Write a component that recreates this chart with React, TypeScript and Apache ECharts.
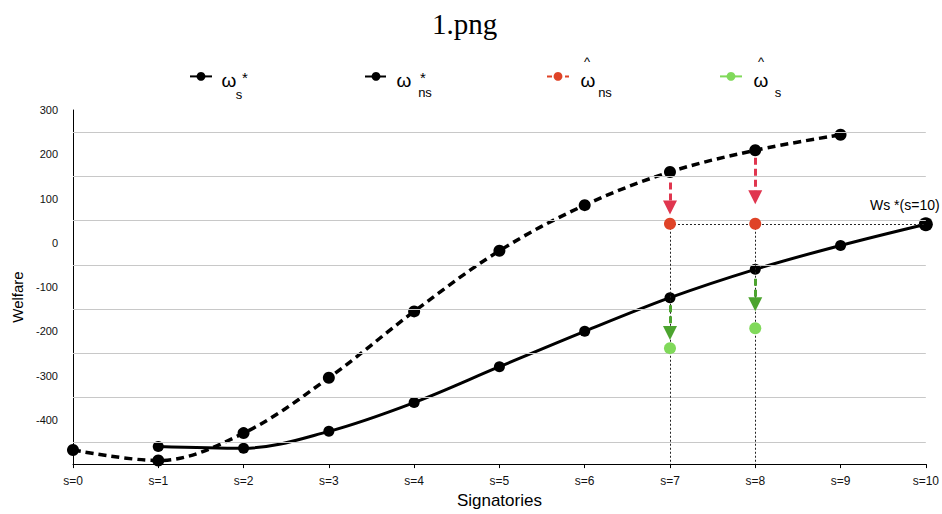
import React, { useEffect, useRef } from 'react';
import * as echarts from 'echarts';

const categories = ['s=0', 's=1', 's=2', 's=3', 's=4', 's=5', 's=6', 's=7', 's=8', 's=9', 's=10'];
const omegaS = [null, -460, -464, -426, -361, -280, -200, -124, -60, -6, 42];
const omegaNS = [-468, -492, -430, -305, -155, -18, 85, 160, 209, 244, null];
const omegaHatNS = [null, null, null, null, null, null, null, 43, 43, null, null];
const omegaHatS = [null, null, null, null, null, null, null, -238, -193, null, null];
const gridValues = [-450, -350, -250, -150, -50, 50, 150, 250];
// arrows: [category index, from value, to value]
const redArrows = [[7, 136, 80], [8, 192, 103]];
const greenArrows = [[7, -141, -204], [8, -81, -139]];
// dotted guide lines: [[x1, y1], [x2, y2]]
const guideLines = [[[7, 43], [10, 43]], [[7, 43], [7, -500]], [[8, 43], [8, -500]]];

const seriesNames = ['ωs*', 'ωns*', 'ω̂ns', 'ω̂s'];
// legend label pieces: [main, subscript, mark above]
const legendMain = ['ω', 'ω', 'ω', 'ω'];
const legendSub = ['s', 'ns', 'ns', 's'];
const legendMark = ['*', '*', '^', '^'];

const FONT = 'Liberation Sans, Arial, Helvetica, sans-serif';
const RED_PT = '#df4327';
const RED_AR = '#e0364f';
const GREEN_PT = '#80d95a';
const GREEN_AR = '#4ca42f';

// legend layout (pixels)
const legendIconLeft = [189, 364, 546, 719];
const legendMainX = [229, 404, 588, 761];
const legendSubX = [239, 425, 605, 778];
const legendMarkX = [245, 423, 587, 761];

function makeLegend(name: string, left: number, extra: any = {}) {
  return {
    data: [{ name, ...extra }],
    left,
    top: 72,
    padding: 0,
    itemWidth: 22,
    itemHeight: 11,
    formatter: () => '',
    textStyle: { fontSize: 8, lineHeight: 11 },
  };
}

export default function App() {
  const ref = useRef<HTMLDivElement>(null);
  useEffect(() => {
    document.body.style.margin = '0';
    const chart = echarts.init(ref.current!, null, { renderer: 'svg' });
    const arrowLines = (arr: number[][]) =>
      arr.map(([x, a, b]) => [{ coord: [x, a] }, { coord: [x, b] }]);

    const legendTexts: any[] = [];
    seriesNames.forEach((_, i) => {
      legendTexts.push({
        type: 'text',
        x: legendMainX[i],
        y: 80,
        style: { text: legendMain[i], font: `19px ${FONT}`, lineHeight: 19, fill: '#000', align: 'center', verticalAlign: 'middle' },
      });
      legendTexts.push({
        type: 'text',
        x: legendSubX[i],
        y: i === 0 ? 94 : 92,
        style: { text: legendSub[i], font: `13px ${FONT}`, lineHeight: 13, fill: '#000', align: 'center', verticalAlign: 'middle' },
      });
      const isStar = legendMark[i] === '*';
      legendTexts.push({
        type: 'text',
        x: legendMarkX[i],
        y: isStar ? 77 : 61,
        style: {
          text: legendMark[i],
          font: isStar ? `15px ${FONT}` : `13px ${FONT}`,
          lineHeight: isStar ? 15 : 13,
          fill: '#000',
          align: 'center',
          verticalAlign: 'middle',
        },
      });
    });

    const option: any = {
      animation: false,
      backgroundColor: '#ffffff',
      title: {
        text: '1.png',
        left: 427,
        top: 4,
        textStyle: { fontFamily: 'Liberation Serif, serif', fontSize: 29, fontWeight: 'normal', color: '#000' },
      },
      legend: [
        makeLegend(seriesNames[0], legendIconLeft[0]),
        makeLegend(seriesNames[1], legendIconLeft[1]),
        makeLegend(seriesNames[2], legendIconLeft[2], { lineStyle: { opacity: 1, width: 2, type: [5, 4] } }),
        makeLegend(seriesNames[3], legendIconLeft[3], { lineStyle: { opacity: 1, width: 2 } }),
      ],
      graphic: legendTexts,
      grid: { left: 73, right: 16, top: 110, bottom: 47 },
      xAxis: {
        type: 'category',
        data: categories,
        boundaryGap: false,
        name: 'Signatories',
        nameLocation: 'middle',
        nameGap: 27,
        nameTextStyle: { fontSize: 17, color: '#000', fontFamily: FONT },
        axisLine: { onZero: false, lineStyle: { color: '#000', width: 1 } },
        axisTick: { show: true, length: 4, lineStyle: { color: '#000' } },
        axisLabel: { fontSize: 12, color: '#111', margin: 11, fontFamily: FONT },
        splitLine: { show: false },
      },
      yAxis: {
        type: 'value',
        min: -500,
        max: 300,
        interval: 100,
        name: 'Welfare',
        nameLocation: 'middle',
        nameGap: 44,
        nameTextStyle: { fontSize: 15, color: '#000', fontFamily: FONT, padding: [0, 20, 0, 0] },
        axisLine: { show: true, lineStyle: { color: '#000', width: 1 } },
        axisTick: { show: false },
        splitLine: { show: false },
        axisLabel: {
          fontSize: 11,
          color: '#111',
          margin: 15,
          fontFamily: FONT,
          formatter: (v: number) => (v === -500 ? '' : String(v)),
        },
      },
      series: [
        {
          name: 'grid',
          type: 'line',
          data: [],
          z: 1,
          markLine: {
            silent: true,
            symbol: 'none',
            label: { show: false },
            lineStyle: { color: '#c8c8c8', type: 'solid', width: 1 },
            data: gridValues.map((v) => ({ yAxis: v })),
          },
        },
        {
          name: 'guides',
          type: 'line',
          data: [],
          z: 2,
          markLine: {
            silent: true,
            symbol: 'none',
            label: { show: false },
            lineStyle: { color: '#222', type: [2, 2], width: 1 },
            data: guideLines.map(([a, b]) => [{ coord: a }, { coord: b }]),
          },
        },
        {
          name: seriesNames[0],
          type: 'line',
          smooth: 0.35,
          z: 4,
          symbol: 'circle',
          symbolSize: 11,
          itemStyle: { color: '#000' },
          lineStyle: { color: '#000', width: 3 },
          data: omegaS.map((v, i) =>
            i === 10
              ? {
                  value: v,
                  symbolSize: 14,
                  label: {
                    show: true,
                    position: 'top',
                    offset: [-21, 0],
                    distance: 5,
                    formatter: 'Ws *(s=10)',
                    fontSize: 14,
                    color: '#000',
                    fontFamily: FONT,
                  },
                }
              : v
          ),
        },
        {
          name: seriesNames[1],
          type: 'line',
          smooth: 0.35,
          z: 4,
          symbol: 'circle',
          symbolSize: 12,
          itemStyle: { color: '#000' },
          lineStyle: { color: '#000', width: 3.5, type: [8, 5] },
          data: omegaNS,
        },
        {
          name: seriesNames[2],
          type: 'line',
          z: 5,
          symbol: 'circle',
          symbolSize: 12,
          itemStyle: { color: RED_PT },
          lineStyle: { color: RED_PT, width: 0, opacity: 0 },
          data: omegaHatNS,
          markLine: {
            silent: true,
            symbol: ['none', 'triangle'],
            symbolSize: 14,
            label: { show: false },
            itemStyle: { color: RED_AR },
            lineStyle: { color: RED_AR, width: 3, type: [7, 4], opacity: 1 },
            data: arrowLines(redArrows),
          },
        },
        {
          name: seriesNames[3],
          type: 'line',
          z: 5,
          symbol: 'circle',
          symbolSize: 12,
          itemStyle: { color: GREEN_PT },
          lineStyle: { color: GREEN_PT, width: 0, opacity: 0 },
          data: omegaHatS,
          markLine: {
            silent: true,
            symbol: ['none', 'triangle'],
            symbolSize: 14,
            label: { show: false },
            itemStyle: { color: GREEN_AR },
            lineStyle: { color: GREEN_AR, width: 3, type: [7, 4], opacity: 1 },
            data: arrowLines(greenArrows),
          },
        },
      ],
    };
    chart.setOption(option);
    return () => chart.dispose();
  }, []);
  return <div ref={ref} style={{ width: 942, height: 514 }} />;
}
